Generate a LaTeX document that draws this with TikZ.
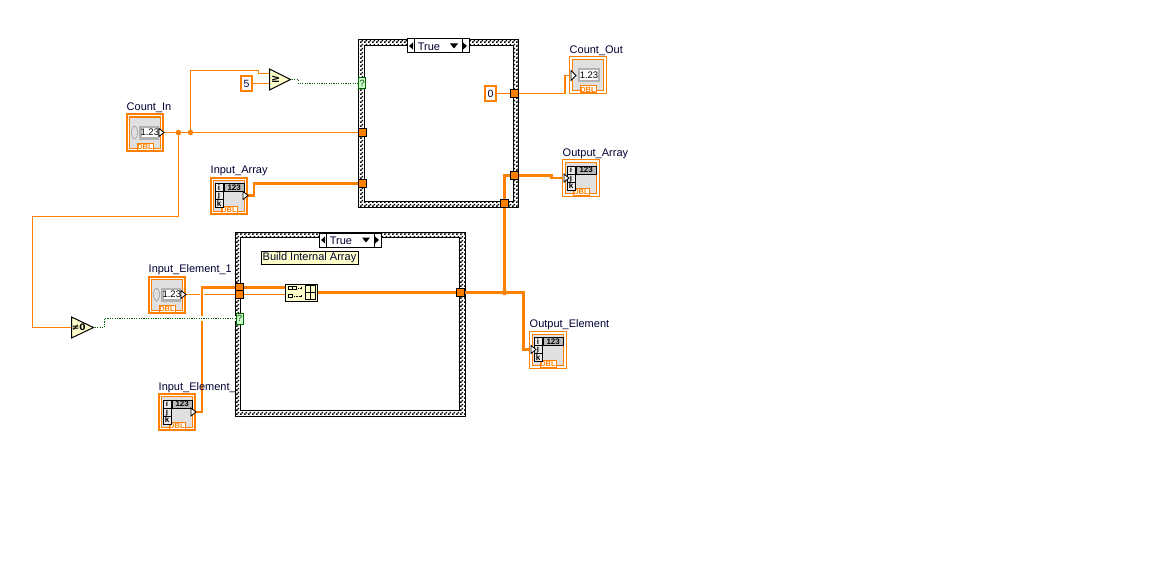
\documentclass[tikz,border=0pt]{standalone}
\usepackage{fontspec}
\setmainfont{Liberation Sans}
\newfontfamily\symfont{DejaVu Sans}
\usetikzlibrary{arrows,shapes,shapes.geometric,positioning,patterns}
\pgfdeclarepatternformonly{finecheck}{\pgfqpoint{0pt}{0pt}}{\pgfqpoint{4pt}{4pt}}{\pgfqpoint{4pt}{4pt}}{
  \pgfpathrectangle{\pgfqpoint{0pt}{0pt}}{\pgfqpoint{2pt}{2pt}}
  \pgfpathrectangle{\pgfqpoint{2pt}{2pt}}{\pgfqpoint{2pt}{2pt}}
  \pgfusepath{fill}
}
\pgfdeclarelayer{caselayer}
\pgfdeclarelayer{wirelayer}
\pgfsetlayers{caselayer,wirelayer,main}

\begin{document}
\begin{tikzpicture}[x=1pt, y=-1pt]

  \definecolor{wireorange}{HTML}{FF8000}
  \definecolor{booldark}{HTML}{006400}
  \definecolor{boolfill}{HTML}{CCFFCC}
  \definecolor{paleyellow}{HTML}{FFFFCC}
  \definecolor{panelgray}{HTML}{E0E0E0}
  \definecolor{labelink}{HTML}{000033}

  \tikzset{
    wirethin/.style = {draw=wireorange, line width=1.2pt},
    wirethick/.style = {draw=wireorange, line width=2.8pt},
    wirebool/.style = {draw=booldark, line width=1pt, dash pattern=on 1.2pt off 1.2pt},
    halo/.style = {preaction={draw=white, line width=4.5pt, solid}},
    junc/.style = {circle, fill=wireorange, inner sep=0pt, minimum size=5.5pt},
    tunnel/.style = {rectangle, draw=black, fill=wireorange, line width=1pt,
      inner sep=0pt, minimum size=8pt},
    booltunnel/.style = {rectangle, draw=booldark, fill=boolfill, line width=1pt,
      inner sep=0pt, minimum width=7pt, minimum height=11pt,
      font=\fontsize{9}{9}\selectfont, text=booldark!70!black},
    caseouter/.style = {rectangle, draw=black, line width=0.8pt, pattern=finecheck,
      inner sep=0pt},
    caseinner/.style = {rectangle, draw=black, line width=1pt, fill=white, inner sep=0pt},
    selector/.style = {rectangle, draw=black, line width=1pt, fill=white, inner sep=0pt,
      minimum width=62pt, minimum height=14pt},
    seltext/.style = {inner sep=0pt, font=\fontsize{11}{11}\selectfont, text=labelink},
    termctrl/.style = {rectangle, draw=wireorange, line width=2pt, fill=white,
      inner sep=0pt, minimum size=36pt},
    termind/.style = {rectangle, draw=wireorange, line width=1pt, fill=white,
      inner sep=0pt, minimum size=37pt},
    terminner/.style = {draw=wireorange, line width=1pt, fill=panelgray},
    termlabel/.style = {anchor=south west, inner sep=0pt, xshift=0.5pt,
      font=\fontsize{11}{11}\selectfont, text=labelink},
    dbltag/.style = {rectangle, draw=wireorange, line width=1pt, fill=white, inner sep=0pt,
      minimum width=16pt, minimum height=7pt, text=wireorange,
      font=\bfseries\fontsize{7.5}{7.5}\selectfont},
    constbox/.style = {rectangle, draw=wireorange, line width=2.4pt, fill=white, inner sep=0pt,
      minimum width=10.5pt, minimum height=14.5pt, text=labelink,
      font=\fontsize{10.5}{10.5}\selectfont},
    numfield/.style = {inner sep=0pt, font=\fontsize{9.5}{9.5}\selectfont},
    cellchar/.style = {inner sep=0pt, font=\bfseries\fontsize{8}{8}\selectfont},
    primtri/.style = {isosceles triangle, isosceles triangle stretches, draw=black,
      line width=1pt, fill=paleyellow, inner sep=0pt, minimum width=21pt,
      minimum height=21pt, anchor=lower side},
    notebox/.style = {rectangle, draw=black, line width=0.8pt, fill=paleyellow,
      inner sep=0pt, minimum width=97pt, minimum height=13pt,
      font=\fontsize{11}{11}\selectfont, text=labelink},
    buildbox/.style = {rectangle, draw=black, line width=1pt, fill=paleyellow,
      inner sep=0pt, minimum width=32pt, minimum height=17pt},
    tipbox/.style = {draw=black, line width=0.8pt, fill=white}
  }

  \newcommand{\termframe}[1]{
    \draw[terminner] ([shift={(-15.5pt,15.5pt)}]#1.center) rectangle ([shift={(15.5pt,-15.5pt)}]#1.center);
    \node[dbltag] (#1tag) at ([yshift=-14pt]#1.center) {DBL};
  }
  \newcommand{\numctrl}[1]{
    \termframe{#1}
    \begin{scope}[shift={(#1.center)}]
      \fill[gray!60] (-6,-7) rectangle (14,7);
      \draw[gray, fill=gray!25] (-10.5,0) ellipse (3pt and 6.5pt);
      \fill[white] (-3.5,-4.5) rectangle (13,4);
      \node[numfield] (#1num) at (4.8,0) {1.23};
      \draw[tipbox] (14,-4) -- ++(5,4) -- ++(-5,4) -- cycle;
    \end{scope}
  }
  \newcommand{\numind}[1]{
    \termframe{#1}
    \begin{scope}[shift={(#1.center)}]
      \fill[gray!60] (-10,-7) rectangle (12,7);
      \fill[white] (-8,-5) rectangle (10,5);
      \node[numfield] (#1num) at (1,0) {1.23};
      \draw[tipbox] (-17,-5) -- ++(5,5) -- ++(-5,5) -- cycle;
    \end{scope}
  }
  \newcommand{\arrayicon}[2]{
    \termframe{#1}
    \begin{scope}[shift={(#1.center)}]
      \foreach \cell [count=\row] in {i,j,k} {
        \node[cellchar, draw=black, line width=0.8pt, fill=panelgray!70, minimum size=8pt]
          (#1cell\row) at (-10,-16+8*\row) {\cell};
      }
      \draw[black, line width=0.8pt, fill=gray!55] (-4.5,-12) rectangle (15,-4);
      \node[cellchar] (#1num) at (5.2,-8) {123};
      \draw[tipbox] (#2,-4) -- ++(5,4) -- ++(-5,4) -- cycle;
    \end{scope}
  }

  \useasboundingbox (0,0) rectangle (1155,575);

  \begin{pgfonlayer}{caselayer}
    \fill[white] (0,0) rectangle (1155,575);
    \node[caseouter, minimum width=160pt, minimum height=168pt] (caseA) at (438.5,123.5) {};
    \node[caseinner, minimum width=149pt, minimum height=156pt] (innerA) at (438.5,123.5) {};
    \node[caseouter, minimum width=230pt, minimum height=184pt] (caseB) at (350,324) {};
    \node[caseinner, minimum width=219pt, minimum height=173pt] (innerB) at (350,324) {};
  \end{pgfonlayer}

  \node[termctrl] (cin) at (145,132.5) {};
  \node[termctrl] (iarr) at (229,195.5) {};
  \node[termctrl] (ieone) at (167,294.5) {};
  \node[termctrl] (iel) at (177,412) {};
  \node[termind] (cout) at (588,75.5) {};
  \node[termind] (oarr) at (581,178) {};
  \node[termind] (oel) at (548,349.5) {};

  \node[tunnel] (tunA) at (362.5,132.5) {};
  \node[tunnel] (tunB) at (362.5,183.5) {};
  \node[tunnel] (tunE) at (514,93.5) {};
  \node[tunnel] (tunF) at (514,175.5) {};
  \node[tunnel] (tunG) at (504.5,203) {};
  \node[tunnel] (tunC) at (239.5,287.5) {};
  \node[tunnel] (tunD) at (239.5,294.5) {};
  \node[tunnel] (tunH) at (460,292.5) {};
  \node[booltunnel] (qA) at (362,83.5) {?};
  \node[booltunnel] (qB) at (239.5,318.5) {?};

  \node[constbox] (five) at (246.5,83.5) {5};
  \node[constbox] (zero) at (490.5,93.5) {0};
  \node[primtri] (ge) at (269,79.5) {\symfont\bfseries\fontsize{11}{11}\selectfont ≥};
  \node[primtri] (neq) at (71,327.5) {\symfont\bfseries\fontsize{9}{9}\selectfont ≠0};
  \node[buildbox] (bld) at (301,292.5) {};
  \node[junc] (jA) at (178.5,132.5) {};
  \node[junc] (jB) at (190.5,132.5) {};
  \node[junc] (jC) at (504.5,292.5) {};
  \coordinate (gein) at (269,73.5);

  \begin{pgfonlayer}{wirelayer}
    \draw[wirethin] (cin.east) -- (tunA.west);
    \draw[wirethin] (jA) -- ++(0,84) -- ++(-146,0) |- (neq.lower side);
    \draw[wirethin] (jB) -- ++(0,-62) -- ++(68,0) -- ++(0,3) -- (gein);
    \draw[wirethin] (five.east) -- (ge.lower side |- five);
    \draw[wirethin] (zero.east) -- (tunE.west);
    \draw[wirethin] (tunE.east) -- ++(46.5,0) |- (cout.west);
    \draw[wirethick] (iarr.east) -- ++(6,0) |- (tunB.west);
    \draw[wirethick] (tunG.north) |- (tunF.west);
    \draw[wirethick] (tunF.east) -- ++(33,0) -- ++(0,2.5) -- (oarr.west);
    \draw[wirethin] (ieone.east) -- (tunD.west);
    \draw[wirethin] (tunD.east) -- (bld.west |- tunD);
    \draw[wirethick, halo] (iel.east) -- ++(6,0) |- (tunC.west);
    \draw[wirethick] (tunC.east) -- (bld.west |- tunC);
    \draw[wirethick] (bld.east) -- (tunH.west);
    \draw[wirethick] (tunH.east) -- (jC);
    \draw[wirethick] (jC) -- (tunG.south);
    \draw[wirethick] (jC) -- ++(19,0) |- (oel.west);
    \draw[wirebool] (ge.apex) -- ++(6.5,0) -- ++(0,4) -- (qA.west);
    \draw[wirebool, halo] (neq.apex) -- ++(9.5,0) |- (qB.west);
  \end{pgfonlayer}

  \numctrl{cin}
  \numctrl{ieone}
  \numind{cout}
  \arrayicon{iarr}{14}
  \arrayicon{iel}{14}
  \arrayicon{oarr}{-17}
  \arrayicon{oel}{-17}

  \begin{scope}[shift={(bld.center)}, line width=0.8pt]
    \draw (-13,-6) rectangle ++(4,3);
    \draw (-9,-6) rectangle ++(4,3);
    \draw (-13,2) rectangle ++(4,3);
    \draw[densely dotted] (-5,-4.5) -- (-1,-4.5);
    \draw[densely dotted] (-9,3.5) -- (-1,3.5);
    \draw (-1,-4.5) -- (1,-4.5) (0,-5.5) -- (0,-3.5);
    \draw (-1,3.5) -- (1,3.5) (0,2.5) -- (0,4.5);
    \draw (4,-7) rectangle (14,7);
    \draw (9,-7) -- (9,7) (4,0) -- (14,0);
  \end{scope}

  \node[selector] (selA) at (438,46) {};
  \node[selector] (selB) at (350,240) {};
  \foreach \sel in {selA,selB} {
    \begin{scope}[shift={(\sel.center)}]
      \draw[line width=1pt] (-24,-7) -- (-24,7) (24,-7) -- (24,7);
      \fill (-29,0) -- ++(4,-3.5) -- ++(0,7) -- cycle;
      \fill (29,0) -- ++(-4,-3.5) -- ++(0,7) -- cycle;
      \fill (12,-2.5) -- ++(8,0) -- ++(-4,5) -- cycle;
      \node[seltext] (\sel txt) at (-9,1) {True};
    \end{scope}
  }

  \node[notebox] (note) at (309.5,257.5) {Build Internal Array};

  \node[above=0.5pt of cin.north west, termlabel] (cinlab) {Count\_In};
  \node[above=0.5pt of iarr.north west, termlabel] (iarrlab) {Input\_Array};
  \node[above=0.5pt of ieone.north west, termlabel] (ieonelab) {Input\_Element\_1};
  \node[above=0.5pt of iel.north west, termlabel] (iellab) {Input\_Element\_};
  \node[above=0.5pt of cout.north west, termlabel] (coutlab) {Count\_Out};
  \node[above=0.5pt of oarr.north west, termlabel] (oarrlab) {Output\_Array};
  \node[above=0.5pt of oel.north west, termlabel] (oellab) {Output\_Element};

\end{tikzpicture}
\end{document}
